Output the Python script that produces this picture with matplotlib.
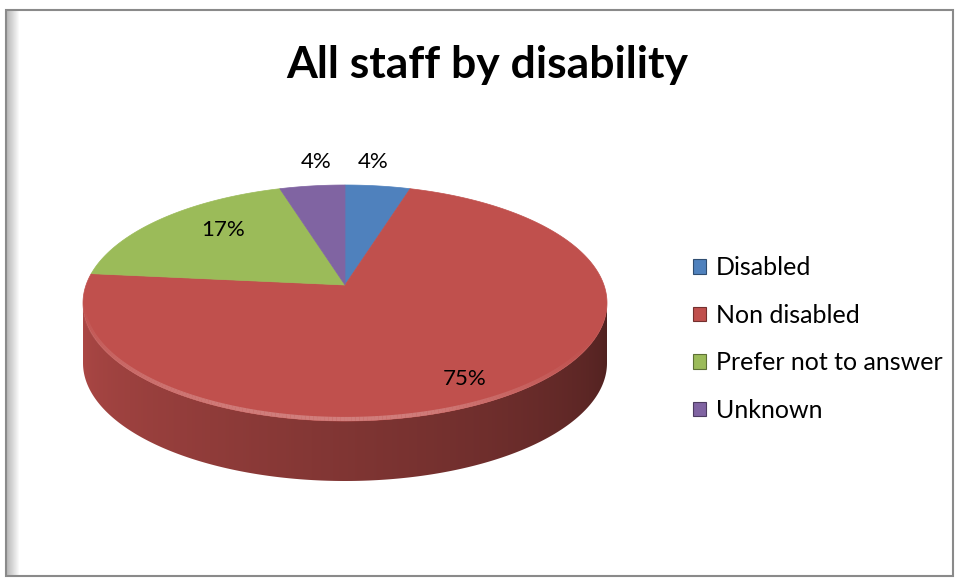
import matplotlib
matplotlib.use("Agg")
import matplotlib.pyplot as plt
import numpy as np
from matplotlib.patches import Polygon, Rectangle, Patch
from matplotlib.collections import LineCollection
from matplotlib.colors import to_rgb

plt.rcParams["font.family"] = ["Lato", "DejaVu Sans"]

categories = ["Disabled", "Non disabled", "Prefer not to answer", "Unknown"]
shares = [4, 75, 17, 4]
colors = ["#4f81bd", "#c0504d", "#9bbb59", "#8064a2"]
title = "All staff by disability"

W, H = 955, 580
# ellipse of the pie top, in pixel units
cx, cy = 345, 303
rx, ry = 262, 118
depth = 60
apex = (cx, cy - 18)
label_r = [1.05, 0.93, 0.66, 1.05]
label_dx = [-6, -4, 0, 6]


def rim(phi):
    phi = np.radians(phi)
    return cx + rx * np.sin(phi), cy - ry * np.cos(phi)


fig = plt.figure(figsize=(W / 100, H / 100), dpi=100)
ax = fig.add_axes([0, 0, 1, 1])
ax.set_xlim(0, W)
ax.set_ylim(H, 0)
ax.axis("off")

# slice boundaries in degrees, clockwise from 12 o'clock
bounds = np.concatenate([[0], np.cumsum(shares)]) / sum(shares) * 360

# side wall (front half only), shaded by angle: lit from the left
xcol = np.linspace(cx - rx, cx + rx, 600)
phi_col = 180 - np.degrees(np.arcsin(np.clip((xcol - cx) / rx, -1, 1)))
shade = 0.40 + 0.50 * ((phi_col - 90) / 180) ** 0.9
for start, end, col in zip(bounds[:-1], bounds[1:], colors):
    lo, hi = max(start, 90), min(end, 270)
    if lo >= hi:
        continue
    phis = np.linspace(lo, hi, 300)
    xs, ys = rim(phis)
    outline = np.column_stack([np.r_[xs, xs[::-1]], np.r_[ys, ys[::-1] + depth]])
    wall = Polygon(outline, closed=True, facecolor="none", edgecolor="none")
    ax.add_patch(wall)
    base = np.array(to_rgb(col))
    img = np.clip(shade[None, :, None] * base[None, None, :], 0, 1)
    im = ax.imshow(img, extent=(cx - rx, cx + rx, cy + ry + depth + 2, cy - 2),
                   aspect="auto", interpolation="bilinear")
    im.set_clip_path(wall)

# top faces
for start, end, col in zip(bounds[:-1], bounds[1:], colors):
    phis = np.linspace(start, end, max(int((end - start) * 2), 4))
    xs, ys = rim(phis)
    pts = np.column_stack([np.r_[apex[0], xs], np.r_[apex[1], ys]])
    ax.add_patch(Polygon(pts, closed=True, facecolor=col, edgecolor=col, lw=0.5))

# bevel highlight along the front rim
for start, end, col in zip(bounds[:-1], bounds[1:], colors):
    lo, hi = max(start, 100), min(end, 268)
    if lo >= hi:
        continue
    phis = np.linspace(lo, hi, 200)
    xs, ys = rim(phis)
    segs = [[(xs[i], ys[i] - 2), (xs[i + 1], ys[i + 1] - 2)] for i in range(len(xs) - 1)]
    base = np.array(to_rgb(col))
    light = base + (1 - base) * 0.3
    mids = (phis[:-1] + phis[1:]) / 2
    alpha = np.clip(np.sin(np.radians((mids - 100) / 168 * 180)) * 0.9, 0, 1) * np.clip((mids - 100) / 60, 0, 1)
    cols = [(*light, a) for a in alpha]
    ax.add_collection(LineCollection(segs, colors=cols, linewidths=3))

# percentage labels
for start, end, v, r, dx in zip(bounds[:-1], bounds[1:], shares, label_r, label_dx):
    mid = np.radians((start + end) / 2)
    x = apex[0] + r * rx * np.sin(mid) + dx
    y = apex[1] - r * ry * np.cos(mid)
    ax.text(x, y, f"{v}%", ha="center", va="center", fontsize=16, color="black")

ax.text(487, 65, title, ha="center", va="center", fontsize=32, fontweight="bold")

handles = [Patch(facecolor=c, edgecolor=np.array(to_rgb(c)) * 0.6, lw=0.8) for c in colors]
ax.legend(handles, categories, loc="center left", bbox_to_anchor=(693 / W, 1 - 339 / H),
          frameon=False, fontsize=18, handlelength=0.5, handleheight=0.5,
          handletextpad=0.4, labelspacing=0.98, borderpad=0, borderaxespad=0)

# chart frame with soft shadow on the left
ax.add_patch(Rectangle((6, 10), 947, 566, fill=False, edgecolor="#8a8a8a", lw=1.5))
grad = np.linspace(0.55, 1, 12)[None, :]
ax.imshow(grad, cmap="gray", vmin=0, vmax=1, extent=(7, 19, 576, 11), aspect="auto", alpha=0.6)
ax.set_xlim(0, W)
ax.set_ylim(H, 0)

fig.savefig("out.png", dpi=100)
